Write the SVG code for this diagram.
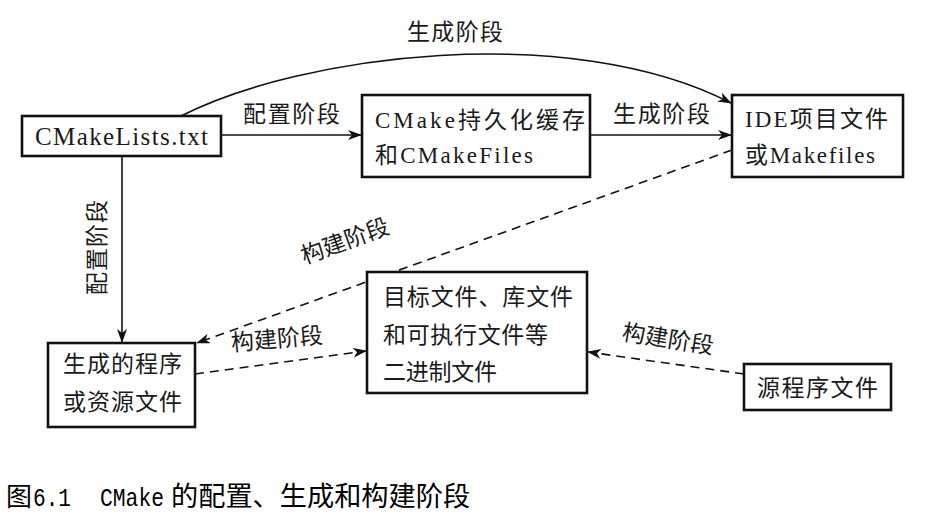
<svg xmlns="http://www.w3.org/2000/svg" width="949" height="529" viewBox="0 0 949 529">
<style>
.box{fill:#fff;stroke:#111;stroke-width:2.6}
.t{font-family:"Liberation Serif","Noto Sans CJK SC",serif;font-size:23px;fill:#1a1a1a}
.lbl{font-family:"Liberation Serif","Noto Sans CJK SC",serif;font-size:23px;fill:#1a1a1a}
.ln{fill:none;stroke:#111;stroke-width:1.6}
.dash{stroke-dasharray:9 6}
.cap{font-family:"Liberation Mono","Noto Sans CJK SC",monospace;fill:#000}
</style>
<defs>
<marker id="ah" viewBox="0 0 14 10" refX="13" refY="5" markerWidth="14" markerHeight="10" markerUnits="userSpaceOnUse" orient="auto">
<path d="M0,0 L14,5 L0,10 L4,5 z" fill="#111"/>
</marker>
</defs>
<g id="connectors">
<line class="ln" x1="221" y1="135" x2="361" y2="135" marker-end="url(#ah)"/>
<line class="ln" x1="590" y1="135" x2="731" y2="135" marker-end="url(#ah)"/>
<path class="ln" d="M181,116 C300,55 570,20 731,103" marker-end="url(#ah)"/>
<line class="ln" x1="122" y1="156" x2="122" y2="342" marker-end="url(#ah)"/>
<line class="ln dash" x1="732" y1="150" x2="197" y2="343" marker-end="url(#ah)"/>
<line class="ln dash" x1="195" y1="374" x2="366" y2="351" marker-end="url(#ah)"/>
<line class="ln dash" x1="744" y1="374" x2="588" y2="352" marker-end="url(#ah)"/>
<text class="lbl" x="243" y="122" textLength="97">配置阶段</text>
<text class="lbl" x="613" y="122" textLength="97">生成阶段</text>
<text class="lbl" x="407" y="40" textLength="96">生成阶段</text>
<text class="lbl" transform="translate(105,295) rotate(-90)" x="0" y="0" textLength="95">配置阶段</text>
<text class="lbl" transform="translate(345,241) rotate(-20)" x="0" y="8" text-anchor="middle">构建阶段</text>
<text class="lbl" transform="translate(277,339) rotate(-5)" x="0" y="8" text-anchor="middle">构建阶段</text>
<text class="lbl" transform="translate(668,339) rotate(9)" x="0" y="8" text-anchor="middle">构建阶段</text>
</g>
<g id="node-cmakelists">
<rect class="box" x="22" y="116" width="199" height="40"/>
<text class="t" x="35" y="145" style="font-size:25px" textLength="173">CMakeLists.txt</text>
</g>
<g id="node-cache">
<rect class="box" x="362" y="95" width="228" height="82"/>
<text class="t" x="375" y="128" textLength="210">CMake持久化缓存</text>
<text class="t" x="375" y="163" textLength="158">和CMakeFiles</text>
</g>
<g id="node-ide">
<rect class="box" x="732" y="95" width="171" height="82"/>
<text class="t" x="745" y="127" textLength="143">IDE项目文件</text>
<text class="t" x="745" y="163" textLength="130">或Makefiles</text>
</g>
<g id="node-generated">
<rect class="box" x="48" y="343" width="147" height="84"/>
<text class="t" x="63" y="372" textLength="119">生成的程序</text>
<text class="t" x="63" y="410" textLength="119">或资源文件</text>
</g>
<g id="node-target">
<rect class="box" x="367" y="272" width="220" height="121"/>
<text class="t" x="383" y="305" textLength="190">目标文件、库文件</text>
<text class="t" x="383" y="343" textLength="165">和可执行文件等</text>
<text class="t" x="383" y="380" textLength="114">二进制文件</text>
</g>
<g id="node-source">
<rect class="box" x="744" y="364" width="147" height="46"/>
<text class="t" x="757" y="396" textLength="121">源程序文件</text>
</g>
<g id="caption">
<text class="cap" y="506"><tspan x="6" style="font-size:26px">图</tspan><tspan x="33" style="font-size:26px" textLength="38" lengthAdjust="spacingAndGlyphs">6.1</tspan><tspan x="100" style="font-size:26px" textLength="64" lengthAdjust="spacingAndGlyphs">CMake</tspan><tspan x="171" style="font-size:27.2px">的配置、生成和构建阶段</tspan></text>
</g>
</svg>
